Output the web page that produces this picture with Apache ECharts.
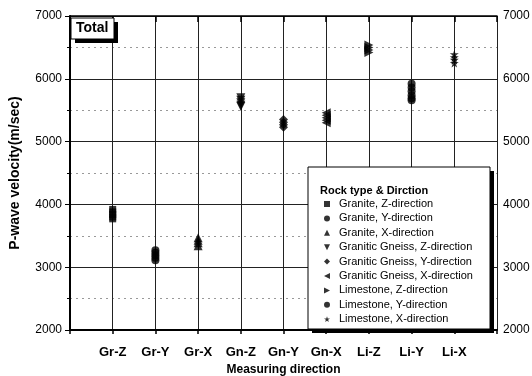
<!DOCTYPE html>
<html>
<head>
<meta charset="utf-8">
<script src="https://cdn.jsdelivr.net/npm/echarts@6/dist/echarts.min.js"></script>
<style>
  html, body { margin: 0; padding: 0; background: #fff; }
  #main { width: 532px; height: 376px; }
</style>
</head>
<body>
<div id="main"></div>
<script>
// measuring directions (x positions 1..9)
const categories = ['Gr-Z', 'Gr-Y', 'Gr-X', 'Gn-Z', 'Gn-Y', 'Gn-X', 'Li-Z', 'Li-Y', 'Li-X']
const seriesNames = [
  'Granite, Z-direction',
  'Granite, Y-direction',
  'Granite, X-direction',
  'Granitic Gneiss, Z-direction',
  'Granitic Gneiss, Y-direction',
  'Granitic Gneiss, X-direction',
  'Limestone, Z-direction',
  'Limestone, Y-direction',
  'Limestone, X-direction'
]

// P-wave velocity (m/sec), several specimens per direction
const grZ = [3920, 3880, 3840, 3800, 3770]
const grY = [3270, 3230, 3190, 3150, 3110]
const grX = [3470, 3430, 3390, 3340]
const gnZ = [5700, 5660, 5620, 5580, 5560]
const gnY = [5350, 5310, 5270, 5230]
const gnX = [5460, 5420, 5380, 5340, 5300]
const liZ = [6540, 6500, 6460, 6420]
const liY = [5920, 5860, 5800, 5740, 5690, 5660]
const liX = [6390, 6340, 6300, 6250]

const yTicks = [2000, 3000, 4000, 5000, 6000, 7000]

const allValues = [grZ, grY, grX, gnZ, gnY, gnX, liZ, liY, liX]

const symbols = [
  'rect',
  'circle',
  'triangle',
  'path://M0,0L10,0L5,10Z',
  'diamond',
  'path://M10,0L10,10L0,5Z',
  'path://M0,0L0,10L10,5Z',
  'circle',
  'path://M5,0L6.2,3.6L10,3.6L6.9,5.8L8.1,9.5L5,7.2L1.9,9.5L3.1,5.8L0,3.6L3.8,3.6Z'
]
const sizes = [7, 8, 9, 9, 9, 9, 9, 8, 9]

const FONT = '"Liberation Sans", Arial, sans-serif'

const chart = echarts.init(document.getElementById('main'), null, { renderer: 'canvas' })

const series = allValues.map(function (vals, i) {
  return {
    name: seriesNames[i],
    type: 'scatter',
    xAxisIndex: 0,
    yAxisIndex: 0,
    symbol: symbols[i],
    symbolSize: sizes[i],
    itemStyle: { color: '#000' },
    z: 5,
    data: vals.map(function (v) { return [i + 1, v] })
  }
})

const plainNum = function (v) { return String(v) }

const option = {
  backgroundColor: '#fff',
  animation: false,
  grid: { left: 70, right: 35, top: 16, bottom: 46, outerBoundsMode: 'none' },
  xAxis: [
    {
      type: 'value',
      position: 'bottom',
      min: 0,
      max: 10,
      interval: 1,
      axisLine: { lineStyle: { color: '#000', width: 2 } },
      axisTick: { inside: false, length: 4, lineStyle: { color: '#000', width: 1.5 } },
      axisLabel: {
        color: '#000',
        fontFamily: FONT,
        fontWeight: 'bold',
        fontSize: 13,
        margin: 16,
        formatter: function (v) { return categories[v - 1] || '' }
      },
      splitLine: { show: true, lineStyle: { color: '#222', width: 1 } },
      name: 'Measuring direction',
      nameLocation: 'middle',
      nameGap: 34,
      nameTextStyle: { color: '#000', fontFamily: FONT, fontWeight: 'bold', fontSize: 12 }
    },
    {
      type: 'value',
      position: 'top',
      min: 0,
      max: 10,
      interval: 1,
      axisLine: { show: true, lineStyle: { color: '#000', width: 1.5 } },
      axisTick: { show: true, inside: true, length: 6, lineStyle: { color: '#000', width: 1.5 } },
      axisLabel: { show: false },
      splitLine: { show: false }
    }
  ],
  yAxis: [
    {
      type: 'value',
      position: 'left',
      min: yTicks[0],
      max: yTicks[yTicks.length - 1],
      interval: 1000,
      axisLine: { show: true, lineStyle: { color: '#000', width: 2 } },
      axisTick: { show: true, length: 5, lineStyle: { color: '#000' } },
      minorTick: { show: true, splitNumber: 2, length: 3, lineStyle: { color: '#000' } },
      axisLabel: { color: '#000', fontFamily: FONT, fontSize: 12, margin: 8, formatter: plainNum },
      splitLine: { show: true, lineStyle: { color: '#222', width: 1 } },
      minorSplitLine: { show: true, lineStyle: { color: '#999', width: 1, type: [2, 4] } },
      name: 'P-wave velocity(m/sec)',
      nameLocation: 'middle',
      nameGap: 48,
      nameTextStyle: { color: '#000', fontFamily: FONT, fontWeight: 'bold', fontSize: 14 }
    },
    {
      type: 'value',
      position: 'right',
      min: yTicks[0],
      max: yTicks[yTicks.length - 1],
      interval: 1000,
      axisLine: { show: true, lineStyle: { color: '#000', width: 1 } },
      axisTick: { show: true, inside: true, length: 4, lineStyle: { color: '#000' } },
      minorTick: { show: true, splitNumber: 2, length: 3, lineStyle: { color: '#000' } },
      axisLabel: { color: '#000', fontFamily: FONT, fontSize: 12, margin: 6, formatter: plainNum },
      splitLine: { show: false }
    }
  ],
  legend: {
    orient: 'vertical',
    left: 324,
    top: 198,
    padding: 0,
    itemWidth: 6,
    itemHeight: 6,
    itemGap: 2.4,
    selectedMode: false,
    z: 10,
    textStyle: { color: '#000', fontFamily: FONT, fontSize: 11, lineHeight: 12, padding: [0, 0, 0, 4] },
    data: seriesNames
  },
  graphic: [
    // legend frame with drop shadow
    { type: 'rect', z: 8, shape: { x: 312, y: 171, width: 182, height: 162 }, style: { fill: '#000' } },
    { type: 'rect', z: 8, shape: { x: 308, y: 167, width: 182, height: 162 }, style: { fill: '#fff', stroke: '#000', lineWidth: 1 } },
    {
      type: 'text', z: 9, left: 320, top: 185,
      style: { text: 'Rock type & Dirction', fill: '#000', font: 'bold 11px ' + FONT }
    },
    // "Total" box
    { type: 'rect', z: 8, shape: { x: 75, y: 22, width: 43, height: 21 }, style: { fill: '#000' } },
    { type: 'rect', z: 8, shape: { x: 71, y: 18, width: 43, height: 21 }, style: { fill: '#fff', stroke: '#000', lineWidth: 1 } },
    {
      type: 'text', z: 9, left: 76, top: 21,
      style: { text: 'Total', fill: '#000', font: 'bold 14px ' + FONT }
    }
  ],
  series: series
}

chart.setOption(option)
</script>
</body>
</html>
